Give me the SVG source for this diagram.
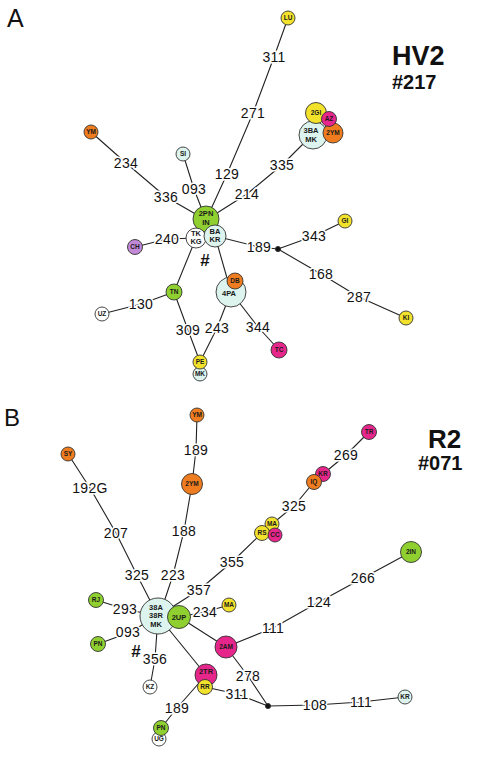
<svg xmlns="http://www.w3.org/2000/svg" width="478" height="758" viewBox="0 0 478 758">
<style>
.e{fill:none;stroke:#222;stroke-width:1.1}
.l{font-family:"Liberation Sans",Arial,sans-serif;font-size:14px;fill:#111;text-anchor:middle;stroke:#fff;stroke-width:3;paint-order:stroke;letter-spacing:0.3px}
circle{stroke:#333;stroke-width:0.9}
.t{font-family:"Liberation Sans",Arial,sans-serif;font-size:6.5px;font-weight:bold;text-anchor:middle;fill:#1a1a1a}
.t8{font-family:"Liberation Sans",Arial,sans-serif;font-size:7.5px;font-weight:bold;text-anchor:middle;fill:#1a1a1a}
.y{fill:#f2e22c}.o{fill:#ef7d1f}.m{fill:#e6268b}.g{fill:#8fd030}.c{fill:#dcf3ee}.p{fill:#c189d6}.w{fill:#fff}
.big{font-family:"Liberation Sans",Arial,sans-serif;font-weight:bold;fill:#111}
.pl{font-family:"Liberation Sans",Arial,sans-serif;fill:#111}
.hash{font-family:"Liberation Sans",Arial,sans-serif;font-size:17px;font-weight:bold;text-anchor:middle;fill:#111}
</style>

<text class="pl" x="7" y="27" font-size="25">A</text>
<text class="pl" x="4" y="426" font-size="24">B</text>
<text class="big" x="392" y="65" font-size="27">HV2</text>
<text class="big" x="392" y="89" font-size="20">#217</text>
<text class="big" x="428" y="448" font-size="26">R2</text>
<text class="big" x="418" y="470" font-size="20">#071</text>
<text class="hash" x="205" y="266">#</text>
<text class="hash" x="136" y="657">#</text>

<g id="connectors">
<polyline class="e" points="288,18 274,57 253,113 227,174 206,220"/>
<polyline class="e" points="91,132 126,163 166,197 206,220"/>
<polyline class="e" points="183,154 194,189 206,220"/>
<polyline class="e" points="313,134 282,165 247,194 206,220"/>
<polyline class="e" points="135,247 167,239 196,238"/>
<polyline class="e" points="215,236 259,247 278,249"/>
<polyline class="e" points="278,249 314,236 345,221"/>
<polyline class="e" points="278,249 321,274 359,297 406,318"/>
<polyline class="e" points="196,238 174,292"/>
<polyline class="e" points="102,314 141,304 174,292"/>
<polyline class="e" points="174,292 188,330 200,362"/>
<polyline class="e" points="215,236 231,292"/>
<polyline class="e" points="231,292 217,328 200,362"/>
<polyline class="e" points="231,292 258,327 279,350"/>

<polyline class="e" points="68,454 90,488 116,533 137,575 158,616"/>
<polyline class="e" points="197,415 196,450 192,484"/>
<polyline class="e" points="192,484 184,531 173,575 163,605"/>
<polyline class="e" points="369,432 346,455 323,474"/>
<polyline class="e" points="314,482 294,506 272,524"/>
<polyline class="e" points="262,533 232,562 199,590 158,616"/>
<polyline class="e" points="179,617 205,612 229,605"/>
<polyline class="e" points="96,600 125,609 158,616"/>
<polyline class="e" points="98,644 128,633 158,616"/>
<polyline class="e" points="158,616 155,659 150,687"/>
<polyline class="e" points="158,616 206,675"/>
<polyline class="e" points="206,675 177,708 161,728"/>
<polyline class="e" points="179,617 226,647"/>
<polyline class="e" points="226,647 273,628 319,602 363,578 411,552"/>
<polyline class="e" points="226,647 248,676 268,706"/>
<polyline class="e" points="205,687 237,694 268,706"/>
<polyline class="e" points="268,706 315,705 361,702 405,697"/>
<circle cx="278" cy="249" r="2.6" fill="#111" stroke="none"/>
<circle cx="268" cy="706" r="2.6" fill="#111" stroke="none"/>

<text class="l" x="274" y="62">311</text>
<text class="l" x="253" y="118">271</text>
<text class="l" x="227" y="179">129</text>
<text class="l" x="126" y="168">234</text>
<text class="l" x="166" y="202">336</text>
<text class="l" x="194" y="194">093</text>
<text class="l" x="282" y="170">335</text>
<text class="l" x="247" y="199">214</text>
<text class="l" x="167" y="244">240</text>
<text class="l" x="259" y="252">189</text>
<text class="l" x="314" y="241">343</text>
<text class="l" x="321" y="279">168</text>
<text class="l" x="359" y="302">287</text>
<text class="l" x="141" y="309">130</text>
<text class="l" x="188" y="335">309</text>
<text class="l" x="217" y="333">243</text>
<text class="l" x="258" y="332">344</text>

<text class="l" x="90" y="493">192G</text>
<text class="l" x="116" y="538">207</text>
<text class="l" x="137" y="580">325</text>
<text class="l" x="196" y="455">189</text>
<text class="l" x="184" y="536">188</text>
<text class="l" x="173" y="580">223</text>
<text class="l" x="346" y="460">269</text>
<text class="l" x="294" y="511">325</text>
<text class="l" x="232" y="567">355</text>
<text class="l" x="199" y="595">357</text>
<text class="l" x="205" y="617">234</text>
<text class="l" x="125" y="614">293</text>
<text class="l" x="128" y="637">093</text>
<text class="l" x="155" y="664">356</text>
<text class="l" x="177" y="713">189</text>
<text class="l" x="273" y="633">111</text>
<text class="l" x="319" y="607">124</text>
<text class="l" x="363" y="583">266</text>
<text class="l" x="248" y="681">278</text>
<text class="l" x="237" y="699">311</text>
<text class="l" x="315" y="710">108</text>
<text class="l" x="361" y="707">111</text>
</g>

<g id="n-LU"><circle class="y" cx="288" cy="18" r="7"/><text class="t" x="288" y="20.3">LU</text></g>
<g id="n-YM-a"><circle class="o" cx="91" cy="132" r="7"/><text class="t" x="91" y="134.3">YM</text></g>
<g id="n-SI"><circle class="c" cx="183" cy="154" r="7"/><text class="t" x="183" y="156.3">SI</text></g>
<g id="n-3BA-MK"><circle class="c" cx="313" cy="135" r="14"/><text class="t8" x="311" y="133">3BA</text><text class="t8" x="311" y="142">MK</text></g>
<g id="n-2GI"><circle class="y" cx="316" cy="113" r="10.5"/><text class="t" x="316" y="115.3">2GI</text></g>
<g id="n-2YM-a"><circle class="o" cx="333" cy="133" r="10"/><text class="t" x="333" y="135.3">2YM</text></g>
<g id="n-AZ"><circle class="m" cx="329" cy="119" r="7.5"/><text class="t" x="329" y="121.3">AZ</text></g>
<g id="n-2PN-IN"><circle class="g" cx="206" cy="219" r="13"/><text class="t8" x="206" y="216">2PN</text><text class="t8" x="206" y="225">IN</text></g>
<g id="n-TK-KG"><circle class="w" cx="196" cy="238" r="10"/><text class="t8" x="196" y="235.5">TK</text><text class="t8" x="196" y="244">KG</text></g>
<g id="n-BA-KR"><circle class="c" cx="215" cy="236" r="11"/><text class="t8" x="215" y="233.5">BA</text><text class="t8" x="215" y="242">KR</text></g>
<g id="n-CH"><circle class="p" cx="135" cy="247" r="7.5"/><text class="t" x="135" y="249.3">CH</text></g>
<g id="n-GI"><circle class="y" cx="345" cy="221" r="7"/><text class="t" x="345" y="223.3">GI</text></g>
<g id="n-KI"><circle class="y" cx="406" cy="318" r="7"/><text class="t" x="406" y="320.3">KI</text></g>
<g id="n-TN"><circle class="g" cx="174" cy="292" r="8"/><text class="t" x="174" y="294.3">TN</text></g>
<g id="n-UZ"><circle class="w" cx="102" cy="314" r="7"/><text class="t" x="102" y="316.3">UZ</text></g>
<g id="n-4PA"><circle class="c" cx="231" cy="292" r="15"/><text class="t8" x="229" y="296">4PA</text></g>
<g id="n-DB"><circle class="o" cx="235" cy="281" r="8"/><text class="t" x="235" y="283.3">DB</text></g>
<g id="n-MK-a"><circle class="c" cx="200" cy="374" r="7"/><text class="t" x="200" y="376.3">MK</text></g>
<g id="n-PE"><circle class="y" cx="200" cy="362" r="7"/><text class="t" x="200" y="364.3">PE</text></g>
<g id="n-TC"><circle class="m" cx="279" cy="350" r="8"/><text class="t" x="279" y="352.3">TC</text></g>

<g id="n-YM-b"><circle class="o" cx="197" cy="415" r="7"/><text class="t" x="197" y="417.3">YM</text></g>
<g id="n-SY"><circle class="o" cx="68" cy="454" r="7"/><text class="t" x="68" y="456.3">SY</text></g>
<g id="n-2YM-b"><circle class="o" cx="192" cy="484" r="10.5"/><text class="t" x="192" y="486.3">2YM</text></g>
<g id="n-TR"><circle class="m" cx="369" cy="432" r="7.5"/><text class="t" x="369" y="434.3">TR</text></g>
<g id="n-KR-b"><circle class="m" cx="323" cy="474" r="7.5"/><text class="t" x="323" y="476.3">KR</text></g>
<g id="n-IQ"><circle class="o" cx="314" cy="482" r="7.5"/><text class="t" x="314" y="484.3">IQ</text></g>
<g id="n-MA-a"><circle class="y" cx="272" cy="524" r="7"/><text class="t" x="272" y="526.3">MA</text></g>
<g id="n-RS"><circle class="y" cx="262" cy="533" r="7.5"/><text class="t" x="262" y="535.3">RS</text></g>
<g id="n-CC"><circle class="m" cx="275" cy="535" r="7"/><text class="t" x="275" y="537.3">CC</text></g>
<g id="n-2IN"><circle class="g" cx="411" cy="552" r="10.5"/><text class="t" x="411" y="554.3">2IN</text></g>
<g id="n-38A-38R-MK"><circle class="c" cx="158" cy="616" r="18"/><text class="t8" x="156" y="610">38A</text><text class="t8" x="156" y="618">38R</text><text class="t8" x="156" y="627">MK</text></g>
<g id="n-2UP"><circle class="g" cx="179" cy="617" r="11.5"/><text class="t8" x="179" y="619.5">2UP</text></g>
<g id="n-MA-b"><circle class="y" cx="229" cy="605" r="7"/><text class="t" x="229" y="607.3">MA</text></g>
<g id="n-RJ"><circle class="g" cx="96" cy="600" r="7.5"/><text class="t" x="96" y="602.3">RJ</text></g>
<g id="n-PN-a"><circle class="g" cx="98" cy="644" r="7.5"/><text class="t" x="98" y="646.3">PN</text></g>
<g id="n-KZ"><circle class="w" cx="150" cy="687" r="7"/><text class="t" x="150" y="689.3">KZ</text></g>
<g id="n-2AM"><circle class="m" cx="226" cy="647" r="11"/><text class="t" x="226" y="649.3">2AM</text></g>
<g id="n-2TR"><circle class="m" cx="206" cy="675" r="11"/><text class="t8" x="206" y="674">2TR</text></g>
<g id="n-RR"><circle class="y" cx="205" cy="687" r="7.5"/><text class="t" x="205" y="689.3">RR</text></g>
<g id="n-UG"><circle class="w" cx="159" cy="739" r="7"/><text class="t" x="159" y="741.3">UG</text></g>
<g id="n-PN-b"><circle class="g" cx="161" cy="728" r="7.5"/><text class="t" x="161" y="730.3">PN</text></g>
<g id="n-KR-c"><circle class="c" cx="405" cy="697" r="7"/><text class="t" x="405" y="699.3">KR</text></g>
</svg>
